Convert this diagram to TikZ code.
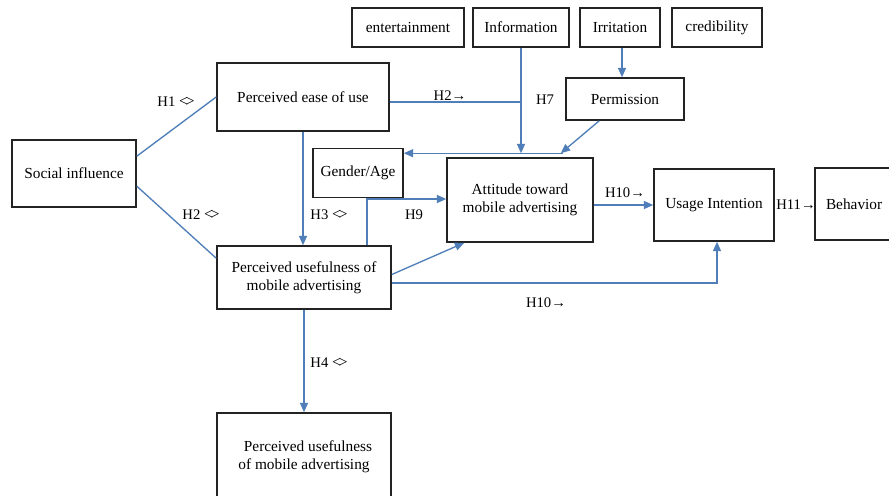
\documentclass[tikz,border=0pt]{standalone}
\usepackage{fontspec}
\setmainfont{Liberation Serif}
\usetikzlibrary{arrows.meta,calc}
\definecolor{lineblue}{RGB}{79,126,184}
\definecolor{boxgray}{RGB}{35,35,35}
\newcommand{\dia}{{\fontsize{12}{13}\selectfont\raisebox{0.3pt}{<\kern-0.16em>}}}
\begin{document}
\begin{tikzpicture}[x=0.75pt,y=-0.75pt,
  box/.style={draw=boxgray,line width=1.2pt,align=center,inner sep=1pt,
    font=\fontsize{11.5}{13.5}\selectfont},
  conn/.style={draw=lineblue,line width=1pt},
  arr/.style={conn,-{Triangle[length=7pt,width=6pt]}},
  lbl/.style={font=\fontsize{11}{13}\selectfont,inner sep=0pt}]
\useasboundingbox (0,0) rectangle (889,496);
\clip (0,0) rectangle (889,496);
\fill[white] (0,0) rectangle (889,496);
% boxes
\node[box,minimum width=84pt,minimum height=29.25pt] (ent) at (408,27.5) {entertainment};
\node[box,minimum width=72pt,minimum height=29.25pt] (info) at (521,27.5) {Information};
\node[box,minimum width=60pt,minimum height=29.25pt] (irr) at (620,27.5) {Irritation};
\node[box,minimum width=67.5pt,minimum height=29.25pt] (cred) at (717,27.5) {credibility};
\node[box,minimum width=129pt,minimum height=51pt] (peou) at (303,97) {Perceived ease of use};
\node[box,minimum width=93pt,minimum height=50.25pt] (social) at (74,173.5) {Social influence};
\node[box,minimum width=67.5pt,minimum height=36.75pt] (gender) at (358,173) {Gender/Age};
\node[box,minimum width=109.5pt,minimum height=63pt] (att) at (520,200) {Attitude toward\\mobile advertising};
\node[box,minimum width=88.5pt,minimum height=31.5pt] (perm) at (625,99) {Permission};
\node[box,minimum width=90pt,minimum height=54pt] (usage) at (714,205) {Usage Intention};
\node[box,minimum width=112.5pt,minimum height=54pt,text width=100pt,align=left] (beh) at (890,204) {\hspace*{2pt}Behavior};
\node[box,minimum width=130.5pt,minimum height=47.25pt] (pu) at (304,277.5) {Perceived usefulness of\\mobile advertising};
\node[box,minimum width=130.5pt,minimum height=65.25pt] (pu2) at (304,456.5) {\hspace*{6pt}Perceived usefulness\\of mobile advertising};
% connectors
\draw[conn] ($(social.north east)+(0,17)$) -- (peou.west);
\draw[conn] ($(social.north east)+(0,47)$) -- ($(pu.north west)+(0,13)$);
\draw[arr] (peou.south) -- (peou.south |- pu.north);
\coordinate (p1) at ($(peou.east)+(0,5)$);
\draw[conn] (p1) -- (info.south |- p1);
\coordinate (hl) at ($(gender.north east)+(0,5.5)$);
\draw[arr] (info.south) -- (info.south |- hl);
\draw[arr] ($(hl)+(159,0)$) -- (hl);
\draw[arr] ($(perm.south west)+(34,0)$) -- ($(hl)+(157,0)$);
\draw[arr] (irr.south -| 622,0) -- (perm.north -| 622,0);
\coordinate (g1) at (367,199);
\draw[arr] (g1 |- pu.north) -- (g1) -- (att.west |- g1);
\draw[arr] ($(pu.east)+(0,-3)$) -- ($(att.south west)+(18,0)$);
\draw[arr] ($(pu.east)+(0,5.5)$) -| (usage.south -| 717,0);
\draw[arr] (usage.west -| att.east) -- (usage.west);
\draw[arr] (pu.south) -- (pu.south |- pu2.north);
% labels
\node[lbl] (l1) at (176,102) {H1 \dia};
\node[lbl] (l2) at (201,215) {H2 \dia};
\node[lbl] (l3) at (329,215) {H3 \dia};
\node[lbl] (l9) at (414,215) {H9};
\node[lbl] (l2b) at (450,96) {H2→};
\node[lbl] (l7) at (545,100) {H7};
\node[lbl] (l10a) at (625,193) {H10→};
\node[lbl] (l10b) at (546,303) {H10→};
\node[lbl] (l11) at (796,205) {H11→};
\node[lbl] (l4) at (329,363) {H4 \dia};
\end{tikzpicture}
\end{document}
